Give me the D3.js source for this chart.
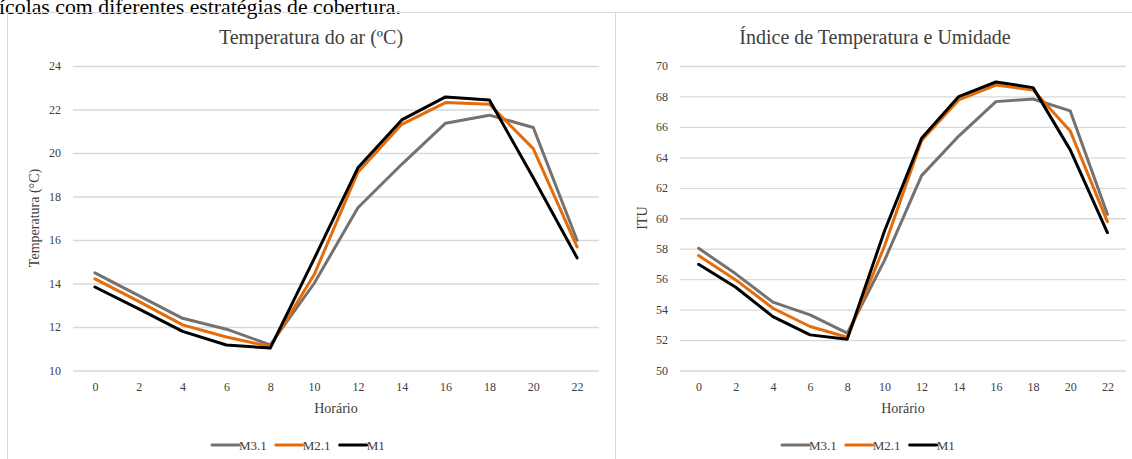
<!DOCTYPE html>
<html>
<head>
<meta charset="utf-8">
<script src="https://cdn.jsdelivr.net/npm/d3@7"></script>
<style>
  html, body { margin: 0; padding: 0; background: #fff; }
  svg { display: block; }
  text { font-family: "Liberation Serif", "Times New Roman", "DejaVu Serif", serif; fill: #404040; }
</style>
</head>
<body>
<svg id="chart" width="1132" height="459"></svg>
<script>
// ---- data ----
const hours = [0, 2, 4, 6, 8, 10, 12, 14, 16, 18, 20, 22];
const seriesNames = ["M3.1", "M2.1", "M1"];
const tempM31 = [14.49, 13.44, 12.40, 11.90, 11.18, 14.00, 17.48, 19.48, 21.37, 21.74, 21.17, 15.99];
const tempM21 = [14.21, 13.18, 12.10, 11.54, 11.10, 14.40, 19.12, 21.32, 22.32, 22.24, 20.20, 15.68];
const tempM1  = [13.84, 12.83, 11.80, 11.17, 11.03, 15.13, 19.32, 21.52, 22.58, 22.44, 18.86, 15.18];
const ituM31  = [58.03, 56.35, 54.49, 53.65, 52.45, 57.22, 62.80, 65.40, 67.66, 67.83, 67.05, 60.26];
const ituM21  = [57.55, 55.95, 54.09, 52.89, 52.18, 58.16, 65.10, 67.77, 68.75, 68.42, 65.73, 59.78];
const ituM1   = [56.98, 55.47, 53.54, 52.34, 52.06, 59.15, 65.25, 67.99, 68.95, 68.58, 64.49, 59.06];
const tempTicks = [10, 12, 14, 16, 18, 20, 22, 24];
const ituTicks = [50, 52, 54, 56, 58, 60, 62, 64, 66, 68, 70];
const colors = ["#767171", "#E46C0A", "#000000"];

const FONT = '"Liberation Serif", "Times New Roman", "DejaVu Serif", serif';
const svg = d3.select("#chart");

// page caption (cut off at top, as in the source page)
svg.append("text")
  .attr("x", -1).attr("y", 14)
  .style("font-family", FONT)
  .style("font-size", "21.8px").style("fill", "#000")
  .text("ícolas com diferentes estratégias de cobertura.");

// chart frames
const frameColor = "#d9d9d9";
svg.append("path")
  .attr("d", "M7.5,470 V12.5 H1140 M615.5,12.5 V470")
  .attr("fill", "none").attr("stroke", frameColor).attr("stroke-width", 1);

function drawChart(cfg) {
  const g = svg.append("g");
  const x = d3.scalePoint().domain(hours).range([cfg.left, cfg.right]).padding(0.5);
  const y = d3.scaleLinear().domain([cfg.ticks[0], cfg.ticks[cfg.ticks.length - 1]]).range([370.5, 66]);

  // title
  g.append("text")
    .attr("x", cfg.titleX).attr("y", 44)
    .attr("text-anchor", "middle")
    .style("font-family", FONT)
    .style("font-size", "20px")
    .text(cfg.title);

  // gridlines via axis
  const yAxis = d3.axisLeft(y).tickValues(cfg.ticks).tickSize(-(cfg.right - cfg.left)).tickPadding(12).tickFormat(d3.format("d"));
  const ya = g.append("g").attr("transform", `translate(${cfg.left},0)`).call(yAxis);
  ya.attr("font-family", null);
  ya.select(".domain").remove();
  ya.selectAll(".tick line").attr("stroke", frameColor).attr("stroke-width", 1.3);
  ya.selectAll(".tick text").style("font-size", "12px").style("fill", "#404040")
    .style("font-family", FONT);

  const xAxis = d3.axisBottom(x).tickSize(0).tickPadding(12);
  const xa = g.append("g").attr("transform", "translate(0,370.5)").call(xAxis);
  xa.attr("font-family", null);
  xa.select(".domain").remove();
  xa.selectAll(".tick text").style("font-size", "12px").style("fill", "#404040")
    .style("font-family", FONT);

  // axis titles
  g.append("text")
    .attr("x", (cfg.left + cfg.right) / 2).attr("y", 413)
    .attr("text-anchor", "middle").style("font-size", "14px").style("font-family", FONT)
    .text("Horário");
  g.append("text")
    .attr("transform", `translate(${cfg.yTitleX},218) rotate(-90)`)
    .attr("text-anchor", "middle").style("font-size", "14px").style("font-family", FONT)
    .text(cfg.yTitle);

  // lines
  const line = d3.line().x((d, i) => x(hours[i])).y(d => y(d));
  cfg.series.forEach((s, i) => {
    g.append("path")
      .datum(s)
      .attr("d", line)
      .attr("fill", "none")
      .attr("stroke", colors[i])
      .attr("stroke-width", 3)
      .attr("stroke-linejoin", "round")
      .attr("stroke-linecap", "round");
  });

  // legend
  const lg = g.append("g").attr("transform", `translate(${cfg.legendX},445)`);
  let lx = 0;
  seriesNames.forEach((n, i) => {
    lg.append("line").attr("x1", lx).attr("x2", lx + 27).attr("y1", 0).attr("y2", 0)
      .attr("stroke", colors[i]).attr("stroke-width", 3).attr("stroke-linecap", "round");
    const t = lg.append("text").attr("x", lx + 27).attr("y", 4.5)
      .style("font-size", "13px").style("font-family", FONT).text(n);
    lx += 27 + t.node().getComputedTextLength() + 9;
  });
}

drawChart({
  left: 73, right: 599, ticks: tempTicks,
  title: "Temperatura do ar (ºC)", titleX: 311,
  yTitle: "Temperatura (°C)", yTitleX: 39,
  legendX: 212,
  series: [tempM31, tempM21, tempM1]
});
drawChart({
  left: 680, right: 1126, ticks: ituTicks,
  title: "Índice de Temperatura e Umidade", titleX: 875,
  yTitle: "ITU", yTitleX: 647,
  legendX: 782,
  series: [ituM31, ituM21, ituM1]
});
</script>
</body>
</html>
